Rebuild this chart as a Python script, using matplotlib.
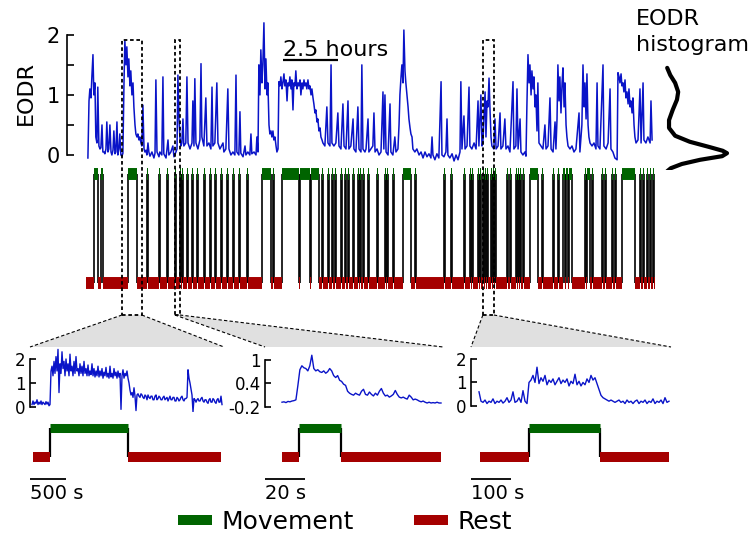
import numpy as np
import matplotlib
matplotlib.use("Agg")
import matplotlib.pyplot as plt
from matplotlib.patches import Rectangle, Polygon
from matplotlib.lines import Line2D
from matplotlib.transforms import blended_transform_factory

# ---------------- data ----------------
# main EODR trace (time in hours)
main_hours = [0.00,0.05,0.09,0.14,0.18,0.23,0.27,0.32,0.36,0.41,0.45,0.50,0.55,0.59,0.64,0.68,0.73,0.77,0.82,0.86,0.91,0.95,1.00,1.05,1.09,1.14,1.18,1.23,1.27,1.32,1.36,1.41,1.45,1.50,1.55,1.59,1.64,1.68,1.73,1.77,1.82,1.86,1.91,1.95,2.00,2.05,2.09,2.14,2.18,2.23,2.27,2.32,2.36,2.41,2.45,2.50,2.55,2.59,2.64,2.68,2.73,2.77,2.82,2.91,3.00,3.05,3.09,3.14,3.23,3.27,3.36,3.41,3.45,3.55,3.64,3.68,3.77,3.86,3.91,4.00,4.05,4.09,4.14,4.18,4.23,4.27,4.32,4.36,4.45,4.50,4.55,4.64,4.73,4.77,4.82,4.86,4.91,5.00,5.09,5.14,5.18,5.27,5.36,5.41,5.50,5.59,5.64,5.68,5.77,5.86,5.91,6.00,6.14,6.18,6.27,6.36,6.41,6.50,6.59,6.68,6.73,6.77,6.86,6.91,6.95,7.05,7.14,7.18,7.27,7.36,7.41,7.45,7.55,7.64,7.68,7.73,7.77,7.82,7.86,7.91,7.95,8.00,8.05,8.09,8.14,8.18,8.23,8.27,8.32,8.36,8.41,8.45,8.50,8.55,8.59,8.64,8.68,8.73,8.77,8.82,8.86,8.91,8.95,9.00,9.05,9.09,9.14,9.18,9.23,9.27,9.32,9.36,9.41,9.45,9.50,9.55,9.59,9.64,9.68,9.73,9.77,9.82,9.86,9.91,9.95,10.00,10.05,10.09,10.14,10.18,10.23,10.27,10.32,10.36,10.41,10.45,10.50,10.55,10.59,10.64,10.68,10.77,10.86,10.91,11.00,11.05,11.09,11.18,11.27,11.36,11.41,11.50,11.59,11.64,11.73,11.82,11.86,11.95,12.05,12.09,12.18,12.27,12.32,12.41,12.45,12.50,12.59,12.64,12.73,12.77,12.86,12.95,13.00,13.05,13.14,13.23,13.32,13.41,13.45,13.50,13.55,13.64,13.73,13.77,13.86,13.95,14.00,14.09,14.14,14.18,14.23,14.27,14.32,14.36,14.41,14.45,14.50,14.55,14.59,14.64,14.68,14.73,14.77,14.86,14.95,15.05,15.14,15.23,15.32,15.41,15.50,15.59,15.64,15.68,15.77,15.86,15.95,16.05,16.09,16.18,16.27,16.32,16.36,16.45,16.55,16.64,16.73,16.82,16.91,16.95,17.00,17.09,17.14,17.23,17.32,17.36,17.45,17.55,17.64,17.73,17.77,17.86,17.91,17.95,18.05,18.09,18.14,18.18,18.23,18.27,18.32,18.36,18.45,18.50,18.55,18.64,18.73,18.77,18.86,18.95,19.00,19.09,19.18,19.32,19.36,19.45,19.50,19.55,19.64,19.68,19.77,19.86,19.91,19.95,20.00,20.05,20.09,20.14,20.18,20.23,20.27,20.32,20.36,20.41,20.45,20.50,20.59,20.68,20.77,20.82,20.91,21.00,21.05,21.14,21.23,21.27,21.32,21.36,21.41,21.45,21.50,21.55,21.59,21.64,21.68,21.73,21.77,21.82,21.91,22.00,22.09,22.18,22.32,22.36,22.45,22.50,22.55,22.59,22.64,22.68,22.73,22.77,22.82,22.91,23.00,23.09,23.14,23.18,23.27,23.41,23.45,23.55,23.64,23.73,23.77,23.86,23.95,24.05,24.09,24.14,24.18,24.23,24.27,24.32,24.36,24.41,24.45,24.50,24.55,24.59,24.64,24.68,24.73,24.77,24.82,24.86,24.91,25.00,25.09,25.14,25.23,25.27,25.36,25.45,25.55,25.59,25.64]
main_eodr = [-0.05,0.9,1.1,0.95,1.3,1.67,1.0,1.2,0.3,0.2,1.13,0.15,0.1,0.12,0.5,0.05,0.05,0.02,0.1,0.55,0.05,0.1,0.5,0.05,0.0,0.08,0.4,0.02,0.05,0.55,0.0,0.1,0.35,0.0,-0.02,0.03,1.2,1.9,1.5,1.8,1.3,1.6,1.15,1.4,1.0,1.2,0.8,0.5,0.35,0.3,0.35,0.25,0.3,0.2,0.15,0.83,0.1,0.05,0.08,0.0,0.2,0.05,-0.02,0.05,-0.05,0.03,1.25,0.05,-0.03,0.05,0.0,1.3,0.02,-0.05,0.25,0.0,0.05,0.15,-0.03,0.05,0.1,1.33,0.6,0.3,0.15,0.2,0.6,0.15,0.2,1.3,0.2,0.1,0.2,0.9,0.15,1.27,0.2,0.1,0.25,1.52,0.3,0.15,0.95,0.15,0.2,0.1,1.13,0.15,0.2,1.2,0.2,0.1,0.2,0.05,0.1,1.1,0.1,0.0,0.05,0.0,1.33,0.05,0.0,0.72,0.03,-0.03,0.15,0.0,0.05,0.0,0.35,0.02,0.05,0.0,0.3,0.05,1.5,1.0,1.75,1.2,1.5,2.2,1.1,1.6,1.0,1.2,0.5,0.35,0.4,0.3,0.4,0.25,0.3,0.15,0.05,0.1,1.22,1.15,1.3,1.1,1.2,1.35,1.15,1.25,0.9,1.2,1.15,1.3,1.1,1.25,0.75,1.2,1.15,1.4,1.1,1.2,1.15,1.25,1.0,1.2,1.1,1.25,1.15,1.2,1.1,1.25,1.1,1.15,1.0,1.1,0.95,0.85,0.7,0.75,0.55,0.6,0.4,0.45,0.3,0.25,0.2,0.15,0.8,0.2,0.15,1.5,0.2,0.15,0.2,0.7,0.15,0.1,0.85,0.15,0.1,0.9,0.1,0.15,0.6,0.1,0.05,0.8,0.1,0.05,1.5,0.1,0.05,0.1,0.6,0.05,0.1,0.15,0.7,0.05,0.1,0.0,0.05,1.05,0.1,1.0,0.05,0.0,0.85,0.05,0.0,0.3,0.05,0.1,0.5,1.0,1.3,1.5,1.2,2.08,1.4,1.2,1.0,0.8,0.6,0.45,0.35,0.3,0.1,0.05,0.1,0.0,0.05,-0.05,0.05,-0.03,0.02,-0.05,0.3,0.0,-0.08,0.02,-0.05,1.22,0.0,-0.03,0.05,0.6,0.0,-0.05,0.02,-0.1,0.0,-0.08,0.05,1.22,0.1,0.65,0.1,0.15,1.13,0.15,0.1,0.2,0.1,0.9,0.15,1.0,0.15,0.2,1.05,0.3,0.9,0.8,1.28,0.8,0.3,0.15,0.1,0.6,0.1,0.15,0.7,0.1,0.15,0.6,0.1,0.15,0.05,1.22,0.1,0.15,1.1,0.1,0.6,0.05,0.0,0.05,-0.02,0.8,1.67,1.2,1.5,1.0,1.4,1.1,1.3,0.8,1.0,0.4,1.2,0.2,0.15,0.1,0.5,0.1,0.15,0.95,0.1,0.05,0.55,0.1,0.6,1.5,0.9,1.3,0.7,1.2,1.45,0.8,1.2,0.5,0.3,0.15,0.1,0.15,0.05,0.1,0.7,0.05,0.5,1.5,0.8,1.2,0.6,1.35,0.5,0.3,0.2,0.15,0.2,0.1,1.2,0.15,0.1,1.5,0.15,0.1,0.2,1.1,0.1,0.05,-0.05,-0.08,1.37,1.3,1.2,1.35,1.15,1.2,1.05,1.25,0.95,1.05,0.85,1.1,0.8,0.9,0.7,0.95,0.5,0.3,0.2,0.25,1.1,0.2,1.2,0.25,0.2,0.3,0.2,0.9,0.25]

# movement episodes (hours); rest fills the rest of the recording
record_span = (-0.09, 25.77)
move_start = [0.27,0.59,1.82,2.68,3.23,3.59,3.95,4.18,4.27,4.50,4.73,4.95,5.27,5.55,5.77,6.05,6.32,6.59,6.86,7.23,7.91,8.43,8.82,9.63,10.13,10.64,10.91,11.09,11.23,11.50,11.68,11.82,12.05,12.27,12.36,12.50,12.73,13.14,13.50,13.59,13.86,14.32,14.86,16.18,16.50,17.09,17.36,17.45,17.73,17.82,17.95,18.05,18.14,18.32,18.41,18.50,19.05,19.18,19.45,19.55,19.64,19.77,20.09,20.64,21.14,21.36,21.59,21.73,21.86,22.59,22.68,22.91,23.36,23.50,23.82,23.95,24.27,25.09,25.23,25.41,25.55,25.68]
move_end = [0.45,0.68,2.23,2.72,3.27,3.63,3.99,4.22,4.31,4.54,4.77,4.99,5.31,5.59,5.81,6.09,6.36,6.63,6.90,7.27,8.32,8.47,9.59,10.09,10.50,10.68,10.95,11.13,11.27,11.54,11.72,11.86,12.09,12.31,12.40,12.54,12.77,13.18,13.54,13.63,13.90,14.68,14.90,16.22,16.54,17.13,17.40,17.49,17.77,17.86,17.99,18.09,18.18,18.36,18.45,18.54,19.09,19.22,19.49,19.59,19.68,19.81,20.45,20.68,21.18,21.40,21.68,21.82,22.00,22.63,22.82,22.95,23.40,23.54,23.86,23.99,24.86,25.13,25.27,25.45,25.59,25.72]

# EODR histogram (relative density at EODR levels)
hist_levels = [1.45,1.33,1.2,1.05,0.92,0.75,0.58,0.45,0.32,0.22,0.13,0.07,0.03,-0.02,-0.08,-0.15,-0.22,-0.27]
hist_density = [0.02,0.07,0.15,0.2,0.18,0.11,0.05,0.05,0.15,0.39,0.72,0.93,1.0,0.92,0.56,0.26,0.08,0.02]

# zoom windows (hours)
zoom_windows = [(1.55, 2.45), (3.95, 4.18), (17.95, 18.45)]
scale_hours = 2.5

# inset 1 (sampling 14 s)
inset1_dt = 14
inset1_eodr = [0.1,0.25,0.1,0.2,0.15,0.3,0.1,0.2,0.12,0.25,0.1,0.2,0.15,0.1,0.22,0.12,0.2,0.05,0.1,
  1.5,1.7,1.3,1.9,1.4,2.1,1.5,2.4,0.6,1.8,1.4,2.3,1.6,1.9,1.3,2.0,1.5,1.8,1.3,2.2,1.5,1.7,1.3,1.9,1.4,2.1,1.5,1.6,1.3,1.8,
  1.4,1.7,1.3,1.9,1.4,1.6,1.3,1.75,1.3,1.5,1.35,1.8,1.3,1.6,1.25,1.5,1.3,1.7,1.25,1.5,1.3,1.6,1.2,1.45,1.3,1.65,1.25,1.4,1.2,1.7,
  1.25,1.4,1.2,1.6,1.3,1.45,1.2,1.5,1.25,1.4,-0.1,1.3,1.55,1.2,1.4,1.3,1.5,1.2,1.0,0.7,0.5,0.6,0.4,0.8,0.45,-0.15,0.5,
  0.55,0.45,0.4,0.55,0.5,0.4,0.35,0.5,0.45,0.3,0.5,0.4,0.35,0.45,0.45,0.3,0.3,0.45,0.5,0.3,0.35,0.45,0.4,0.3,0.3,0.4,0.45,0.3,0.35,0.4,
  0.25,0.35,0.45,0.3,0.3,0.4,0.4,0.25,0.25,0.4,0.35,0.25,0.3,0.4,0.45,0.3,0.25,0.35,0.35,0.4,1.55,1.2,1.0,0.75,0.5,-0.2,0.35,0.3,0.2,0.3,
  0.35,0.25,0.25,0.35,0.4,0.25,0.2,0.3,0.3,0.2,0.15,0.3,0.35,0.2,0.2,0.35,0.3,0.2,0.15,0.3,0.35,0.2,0.2,0.45,0.1]
inset1_span = (14, 2646)
inset1_move = (252, 1344)
inset1_bar = 500

# inset 2 (sampling 1 s)
inset2_dt = 1
inset2_eodr = [-0.08,-0.07,-0.09,-0.06,-0.07,-0.05,-0.04,-0.02,0.35,0.75,0.85,0.8,0.78,0.72,0.85,1.12,0.78,0.72,0.75,0.7,
  0.68,0.72,0.66,0.7,0.78,0.72,0.6,0.55,0.6,0.48,0.45,0.38,0.35,0.2,0.15,0.12,0.1,0.15,0.12,0.1,
  0.2,0.25,0.12,0.1,0.18,0.12,0.08,0.15,0.1,0.2,0.27,0.15,0.08,0.1,0.05,0.08,0.12,0.22,0.12,0.05,
  0.03,0.05,0.02,0.0,0.1,0.05,-0.02,0.0,-0.02,-0.05,-0.07,-0.05,-0.08,-0.1,-0.08,-0.1,-0.09,-0.1,-0.08,-0.1,-0.1]
inset2_span = (0, 80)
inset2_move = (8.5, 29.7)
inset2_bar = 20

# inset 3 (sampling 5 s)
inset3_dt = 5
inset3_eodr = [0.6,0.2,0.15,0.25,0.1,0.2,0.15,0.3,0.1,0.2,0.15,0.25,0.12,0.2,0.35,0.15,0.25,0.6,0.15,0.2,0.35,0.15,0.65,0.2,0.1,
  1.0,1.1,1.3,1.0,1.65,0.95,1.2,1.05,1.3,0.9,1.1,1.0,1.15,0.9,1.05,1.2,0.95,1.1,1.0,1.15,0.85,1.05,0.95,1.35,0.9,1.05,0.85,1.0,0.9,1.15,1.0,1.3,1.1,1.2,0.95,
  0.7,0.45,0.35,0.3,
  0.25,0.2,0.25,0.2,0.15,0.2,0.25,0.15,0.2,0.1,0.25,0.15,0.2,0.1,0.2,0.25,0.1,0.2,0.15,0.25,0.1,0.2,0.15,0.3,0.1,0.2,0.15,0.25,0.1,0.35,0.15,0.2]
inset3_span = (2.5, 475)
inset3_move = (125, 302)
inset3_bar = 100

# ---------------- style ----------------
BLUE = "#0a14c8"
GREEN = "#006400"
RED = "#a50000"
GRAY = "#e0e0e0"
plt.rcParams['font.family'] = ['DejaVu Sans']

W, H = 754, 535
fig = plt.figure(figsize=(W / 100, H / 100), dpi=100)


def fpos(l, t, r, b):
    return [l / W, 1 - b / H, (r - l) / W, (b - t) / H]


def tofig(ax, x, y):
    d = ax.transData.transform((x, y))
    return fig.transFigure.inverted().transform(d)


# ---- main trace ----
ax = fig.add_axes(fpos(67, 15, 660, 170))
ax.plot(main_hours, main_eodr, color=BLUE, lw=1.1)
ax.set_xlim(-0.95, 26.0)
ax.set_ylim(-0.25, 2.33)
for s in ['top', 'right', 'bottom']:
    ax.spines[s].set_visible(False)
ax.spines['left'].set_bounds(0, 2)
ax.spines['left'].set_linewidth(1.2)
ax.set_xticks([])
ax.set_yticks([0, 1, 2])
ax.set_yticks([0.5, 1.5], minor=True)
ax.tick_params(axis='y', which='both', direction='in', length=5, width=1.2,
               labelsize=15, pad=5)
ax.set_ylabel('EODR', fontsize=16, labelpad=8)
ax.patch.set_alpha(0)
# 2.5 hours scale bar
sb0 = 8.86
ax.plot([sb0, sb0 + scale_hours], [1.58, 1.58], color='k', lw=1.6,
        solid_capstyle='butt')
ax.text(sb0, 1.65, '2.5 hours', fontsize=16, ha='left', va='baseline')

# ---- main raster ----
axr = fig.add_axes(fpos(67, 160, 660, 300))
axr.set_xlim(ax.get_xlim())
axr.set_ylim(-0.156, 1.128)
axr.axis('off')
rest_s = [record_span[0]] + list(move_end)
rest_e = list(move_start) + [record_span[1]]
axr.vlines(move_start + move_end, 0, 1, color='k', lw=1.4, alpha=0.85)
axr.hlines([0] * len(rest_s), rest_s, rest_e, color=RED, lw=8.6,
           capstyle='butt')
axr.hlines([1] * len(move_start), move_start, move_end, color=GREEN, lw=8.6,
           capstyle='butt')

# ---- histogram ----
axh = fig.add_axes(fpos(660, 15, 745, 170))
axh.plot(hist_density, hist_levels, color='k', lw=3.0,
         solid_joinstyle='round', solid_capstyle='round')
axh.set_ylim(ax.get_ylim())
axh.set_xlim(-0.098, 1.295)
axh.axis('off')
fig.text(636 / W, 1 - 9 / H, 'EODR\nhistogram', fontsize=16, ha='left',
         va='top', linespacing=1.35)

# ---- insets ----
insets = [
    dict(box=(30, 224), xlim=(-28, 2688), ylim=(-0.21, 2.5), dt=inset1_dt,
         y=inset1_eodr, span=inset1_span, move=inset1_move, bar=inset1_bar,
         bar_label='500 s', yt=[0, 1, 2], ytl=['0', '1', '2']),
    dict(box=(265, 443), xlim=(-8.55, 81.0), ylim=(-0.33, 1.33), dt=inset2_dt,
         y=inset2_eodr, span=inset2_span, move=inset2_move, bar=inset2_bar,
         bar_label='20 s', yt=[-0.2, 0.4, 1], ytl=['-0.2', '0.4', '1']),
    dict(box=(471, 671), xlim=(-20, 480), ylim=(-0.26, 2.51), dt=inset3_dt,
         y=inset3_eodr, span=inset3_span, move=inset3_move, bar=inset3_bar,
         bar_label='100 s', yt=[0, 1, 2], ytl=['0', '1', '2']),
]

bt = blended_transform_factory(ax.transData, fig.transFigure)
box_top, box_bot = 1 - 40 / H, 1 - 315 / H

for win, ins in zip(zoom_windows, insets):
    l, r = ins['box']
    axi = fig.add_axes(fpos(l, 347, r, 412))
    t = np.arange(len(ins['y'])) * ins['dt']
    axi.plot(t, ins['y'], color=BLUE, lw=1.0)
    axi.set_xlim(ins['xlim'])
    axi.set_ylim(ins['ylim'])
    for s in ['top', 'right', 'bottom']:
        axi.spines[s].set_visible(False)
    axi.spines['left'].set_bounds(ins['yt'][0], ins['yt'][-1])
    axi.spines['left'].set_linewidth(1.2)
    axi.set_xticks([])
    axi.set_yticks(ins['yt'])
    axi.set_yticklabels(ins['ytl'])
    axi.tick_params(axis='y', direction='in', length=4, width=1.2,
                    labelsize=12, pad=3)
    axi.patch.set_alpha(0)

    axri = fig.add_axes(fpos(l, 415, r, 500))
    axri.set_xlim(ins['xlim'])
    axri.set_ylim(-1.458, 1.424)
    axri.axis('off')
    m0, m1 = ins['move']
    s0, s1 = ins['span']
    axri.vlines([m0, m1], 0, 1, color='k', lw=1.6)
    axri.hlines([0, 0], [s0, m1], [m0, s1], color=RED, lw=7.2, capstyle='butt')
    axri.hlines([1], [m0], [m1], color=GREEN, lw=6.5, capstyle='butt')
    x0 = ins['xlim'][0]
    axri.plot([x0, x0 + ins['bar']], [-0.746, -0.746], color='k', lw=1.3,
              solid_capstyle='butt', clip_on=False)
    axri.text(x0, -0.9, ins['bar_label'], fontsize=14, ha='left', va='top')

    # dashed box on main view
    rect = Rectangle((win[0], box_bot), win[1] - win[0], box_top - box_bot,
                     transform=bt, fill=False, ls=(0, (2, 1.5)), lw=1.3,
                     ec='k', zorder=5)
    fig.add_artist(rect)
    # connector
    xb0 = tofig(ax, win[0], 0)[0]
    xb1 = tofig(ax, win[1], 0)[0]
    yi = 1 - 347 / H
    xi0, xi1 = l / W, r / W
    poly = Polygon([(xb0, box_bot), (xb1, box_bot), (xi1, yi), (xi0, yi)],
                   closed=True, transform=fig.transFigure, fc=GRAY, ec='none',
                   zorder=0)
    fig.add_artist(poly)
    for (xa, xb) in [(xb0, xi0), (xb1, xi1)]:
        fig.add_artist(Line2D([xa, xb], [box_bot, yi], transform=fig.transFigure,
                              color='k', lw=0.8, ls=(0, (3, 2))))

# ---- legend ----
handles = [Line2D([], [], color=GREEN, lw=7.2, solid_capstyle='butt'),
           Line2D([], [], color=RED, lw=7.2, solid_capstyle='butt')]
fig.legend(handles, ['Movement', 'Rest'], loc='center',
           bbox_to_anchor=(345 / W, 1 - 522 / H), ncol=2, frameon=False,
           fontsize=18, handlelength=1.35, handletextpad=0.4,
           columnspacing=2.4, borderpad=0)

fig.savefig('out.png', dpi=100)
